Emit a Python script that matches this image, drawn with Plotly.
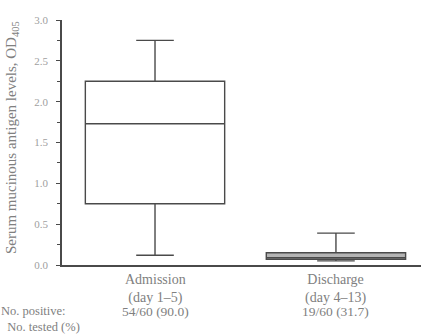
import plotly.graph_objects as go

# Summary statistics of serum mucinous antigen levels (OD)
groups = ["Admission<br>(day 1–5)", "Discharge<br>(day 4–13)"]
positions = [0, 1]
lower_whisker = [0.12, 0.05]
q1 = [0.75, 0.07]
median = [1.73, 0.09]
q3 = [2.25, 0.15]
upper_whisker = [2.75, 0.39]
positive_counts = ["54/60 (90.0)", "19/60 (31.7)"]
box_fills = ["white", "#b4b4b4"]

y_ticks = [0.0, 0.5, 1.0, 1.5, 2.0, 2.5, 3.0]

SERIF = "Liberation Serif, Times New Roman, serif"
INK = "#4a4a4a"
TEXT = "#808080"

fig = go.Figure()
for i in range(len(groups)):
    fig.add_trace(go.Box(
        x=[positions[i]],
        q1=[q1[i]], median=[median[i]], q3=[q3[i]],
        lowerfence=[lower_whisker[i]], upperfence=[upper_whisker[i]],
        width=0.77,
        whiskerwidth=0.27,
        fillcolor=box_fills[i],
        line=dict(color=INK, width=1.4),
        boxpoints=False,
        hoverinfo="skip",
        showlegend=False,
    ))

label_font = dict(family=SERIF, size=14, color=TEXT)

# Category labels under the x axis
for i in range(len(groups)):
    fig.add_annotation(x=positions[i], xref="x",
                       y=0, yref="paper", yanchor="top", yshift=-5,
                       text=groups[i], showarrow=False, font=label_font)

# Count row beneath the categories
fig.add_annotation(x=0, xref="paper", xanchor="left", xshift=-63,
                   y=0, yref="paper", yanchor="top", yshift=-37,
                   text="No. positive:<br>&nbsp;&nbsp;No. tested (%)",
                   showarrow=False, align="left",
                   font=dict(family=SERIF, size=12.5, color=TEXT))
for i in range(len(groups)):
    fig.add_annotation(x=positions[i], xref="x",
                       y=0, yref="paper", yanchor="top", yshift=-37,
                       text=positive_counts[i], showarrow=False,
                       font=dict(family=SERIF, size=13.5, color=TEXT))

# Rotated y-axis title
fig.add_annotation(x=0, xref="paper", xanchor="center", xshift=-50,
                   y=0.518, yref="paper", yanchor="middle",
                   text="Serum mucinous antigen levels, OD<sub>405</sub>",
                   textangle=-90, showarrow=False,
                   font=dict(family=SERIF, size=15, color=TEXT))

fig.update_layout(
    width=424, height=336,
    margin=dict(l=62, r=3, t=20, b=71),
    paper_bgcolor="white", plot_bgcolor="white",
    font=dict(family=SERIF, color=TEXT),
    xaxis=dict(
        range=[-0.514, 1.47],
        showticklabels=False,
        ticks="", showgrid=False, zeroline=False,
        showline=True, linecolor=INK, linewidth=1.5,
    ),
    yaxis=dict(
        range=[0, 3.0],
        tickvals=y_ticks, ticktext=[f"{v:.1f}" for v in y_ticks],
        ticks="outside", ticklen=4, tickwidth=1.2, tickcolor=INK,
        minor=dict(dtick=0.25, ticks="outside", ticklen=3, tickcolor=INK, showgrid=False),
        showgrid=False, zeroline=False,
        showline=True, linecolor=INK, linewidth=1.5,
        ticklabelstandoff=6,
        tickfont=dict(family=SERIF, size=11, color="#a0a0a0"),
    ),
)

fig.write_html("out.html")
